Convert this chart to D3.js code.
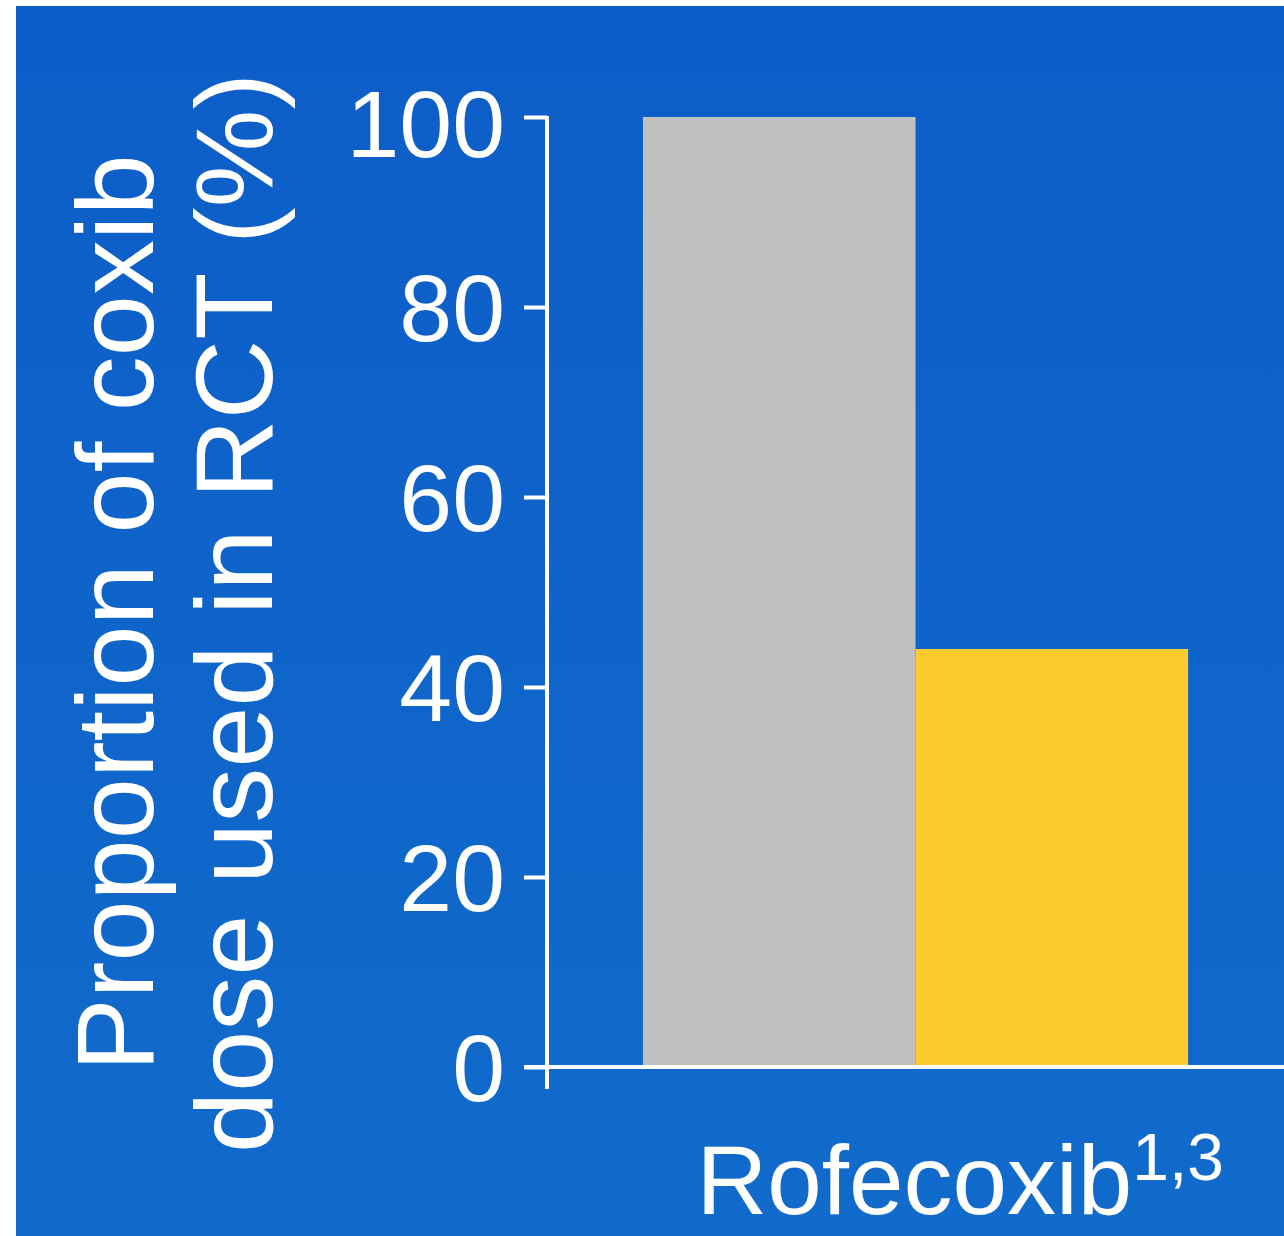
<!DOCTYPE html>
<html>
<head>
<meta charset="utf-8">
<script src="https://cdn.jsdelivr.net/npm/d3@7"></script>
<style>
  html, body { margin: 0; padding: 0; background: #ffffff; }
  svg { display: block; }
  text { font-family: "Liberation Sans", Arial, sans-serif; fill: #ffffff; }
</style>
</head>
<body>
<svg id="chart" width="1284" height="1236"></svg>
<script>
// Data
const categories = ["Rofecoxib"];
const categorySuperscripts = ["1,3"];
const seriesKeys = ["reference", "rct"];
const seriesColors = ["#c0c0c0", "#fdcb2e"];
const referenceValues = [100];
const rctValues = [44];
const yTickValues = [0, 20, 40, 60, 80, 100];
const yLabelLines = ["Proportion of coxib", "dose used in RCT (%)"];

const svg = d3.select("#chart");
const W = 1284, H = 1236;

// Blue panel with a soft vertical gradient
const defs = svg.append("defs");
const grad = defs.append("linearGradient")
  .attr("id", "panelGrad").attr("x1", 0).attr("y1", 0).attr("x2", 0).attr("y2", 1);
grad.append("stop").attr("offset", "0%").attr("stop-color", "#0d5dc8");
grad.append("stop").attr("offset", "100%").attr("stop-color", "#116bcb");

svg.append("rect")
  .attr("x", 16).attr("y", 6)
  .attr("width", W - 16).attr("height", H - 6)
  .attr("fill", "url(#panelGrad)");

// Scales
const axisX = 547;
const y = d3.scaleLinear().domain([0, 100]).range([1067, 117]);

const x0 = d3.scaleBand()
  .domain(categories)
  .range([axisX, W])
  .paddingInner(0)
  .paddingOuter(0.176);

const x1 = d3.scaleBand()
  .domain(seriesKeys)
  .range([0, x0.bandwidth()])
  .padding(0);

const color = d3.scaleOrdinal().domain(seriesKeys).range(seriesColors);

const rows = categories.map((c, i) => ({
  category: c,
  values: [
    { key: "reference", value: referenceValues[i] },
    { key: "rct", value: rctValues[i] }
  ]
}));

// Bars
const groups = svg.append("g").selectAll("g")
  .data(rows).join("g")
  .attr("transform", d => `translate(${x0(d.category)},0)`);

groups.selectAll("rect")
  .data(d => d.values).join("rect")
  .attr("x", d => x1(d.key))
  .attr("y", d => y(d.value))
  .attr("width", x1.bandwidth())
  .attr("height", d => y(0) - y(d.value))
  .attr("fill", d => color(d.key));

// Y axis
const yAxis = d3.axisLeft(y)
  .tickValues(yTickValues)
  .tickSize(23)
  .tickSizeOuter(0)
  .tickPadding(19);

const gy = svg.append("g")
  .attr("transform", `translate(${axisX},0)`)
  .call(yAxis);
gy.select(".domain").remove();
gy.selectAll(".tick line").attr("stroke", "#ffffff").attr("stroke-width", 4);
gy.selectAll(".tick text")
  .attr("fill", "#ffffff")
  .style("font-size", "95px")
  .attr("dy", d => d === 100 ? "0.42em" : "0.35em");

// Axis lines
svg.append("line")
  .attr("x1", axisX).attr("x2", axisX)
  .attr("y1", y(100) - 1).attr("y2", y(0) + 22)
  .attr("stroke", "#ffffff").attr("stroke-width", 4);

svg.append("line")
  .attr("x1", axisX - 23).attr("x2", W)
  .attr("y1", y(0)).attr("y2", y(0))
  .attr("stroke", "#ffffff").attr("stroke-width", 4);

// Category label with superscript reference
categories.forEach((c, i) => {
  const t = svg.append("text")
    .attr("x", x0(c) + x0.bandwidth() / 2 - 219)
    .attr("y", 1214)
    .attr("text-anchor", "start")
    .style("font-size", "98px");
  t.append("tspan").text(c);
  t.append("tspan")
    .attr("dy", -34)
    .attr("dx", 0)
    .style("font-size", "66px")
    .text(categorySuperscripts[i]);
});

// Y axis title (two rotated lines)
const titleBaselines = [153, 272];
yLabelLines.forEach((line, i) => {
  svg.append("text")
    .attr("transform", `translate(${titleBaselines[i]},613) rotate(-90)`)
    .attr("text-anchor", "middle")
    .style("font-size", "110px")
    .text(line);
});
</script>
</body>
</html>
